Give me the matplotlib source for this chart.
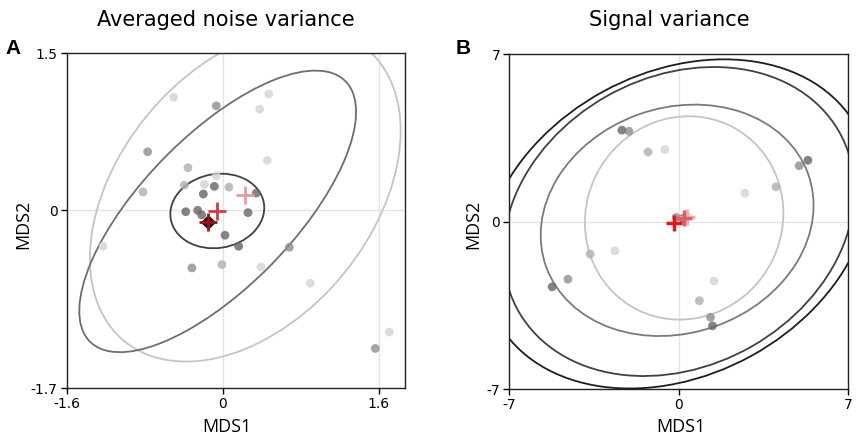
import numpy as np
import matplotlib
matplotlib.use("Agg")
import matplotlib.pyplot as plt
from matplotlib.patches import Ellipse

# ---------------------------
# Panel A: averaged noise variance
# ---------------------------
a_xlim = (-1.6, 1.87)
a_ylim = (-1.7, 1.5)
a_ticks_x = [-1.6, 0, 1.6]
a_ticks_y = [-1.7, 0, 1.5]
a_ticklabels_x = ["-1.6", "0", "1.6"]
a_ticklabels_y = ["-1.7", "0", "1.5"]

# points grouped by shade (light -> dark)
a_light_x = [-0.503, 0.472, 0.379, 0.458, -0.065, -0.188, -1.227, 0.393, 0.899, 1.709]
a_light_y = [1.080, 1.112, 0.966, 0.477, 0.330, 0.248, -0.343, -0.540, -0.696, -1.163]
a_mlight_x = [-0.393, 0.065, -0.817, -0.356, -0.007]
a_mlight_y = [0.241, 0.222, 0.175, 0.407, -0.518]
a_mid_x = [-0.065, -0.769, -0.315, 0.684, 1.566]
a_mid_y = [0.998, 0.559, -0.550, -0.353, -1.319]
a_dark_x = [-0.085, -0.198, 0.345, -0.379, -0.256, -0.215, 0.260, 0.024, 0.164]
a_dark_y = [0.229, 0.156, 0.165, -0.013, 0.0, -0.044, -0.022, -0.238, -0.343]

# ellipses: centre and covariance-like shape matrix
a_ell_centers = [(0.232, 0.149), (-0.051, -0.010), (-0.055, -0.006)]
a_ell_covs = [[[2.54, 0.97], [0.97, 2.54]],
              [[2.016, 1.35], [1.35, 1.809]],
              [[0.232, 0.0145], [0.0145, 0.127]]]
a_ell_colors = ["#c4c4c4", "#6e6e6e", "#404040"]

# means (crosses)
a_cross_x = [0.232, -0.058, -0.147]
a_cross_y = [0.149, -0.003, -0.114]
a_cross_colors = ["#ec9a9a", "#d23c3c", "#a01010"]
a_diamond_x = [-0.147]
a_diamond_y = [-0.114]

# ---------------------------
# Panel B: signal variance
# ---------------------------
b_lim = (-7, 7)
b_ticks = [-7, 0, 7]
b_ticklabels = ["-7", "0", "7"]

b_light_x = [-0.58, 2.73, -2.64, 1.45, 0.37]
b_light_y = [3.01, 1.18, -1.23, -2.49, 0.19]
b_mlight_x = [-1.27, 4.01, -3.66, 0.85]
b_mlight_y = [2.91, 1.45, -1.36, -3.31]
b_mid_x = [-2.06, 4.97, -4.58, 1.31, -0.11]
b_mid_y = [3.77, 2.33, -2.41, -4.00, 0.17]
b_dark_x = [-2.35, 5.33, -5.23, 1.39, 0.17]
b_dark_y = [3.82, 2.56, -2.73, -4.36, 0.13]

b_ell_centers = [(0.22, 0.15), (-0.07, 0.05), (0.0, 0.0), (-0.08, -0.1)]
b_ell_covs = [[[16.8, 0.8], [0.8, 18.06]],
              [[31.75, 3.5], [3.5, 23.38]],
              [[52.5, 9.35], [9.35, 41.7]],
              [[64.0, 13.4], [13.4, 47.3]]]
b_ell_colors = ["#c4c4c4", "#7a7a7a", "#404040", "#1e1e1e"]

b_cross_x = [0.35, 0.2, -0.18]
b_cross_y = [0.2, 0.15, -0.08]
b_cross_colors = ["#f0b0b0", "#e06060", "#e01818"]

shades = ["#d4d4d4", "#b0b0b0", "#8e8e8e", "#666666"]


def draw_ellipses(ax, centers, covs, colors):
    for c, cov, col in zip(centers, covs, colors):
        vals, vecs = np.linalg.eigh(np.array(cov))
        order = vals.argsort()[::-1]
        vals, vecs = vals[order], vecs[:, order]
        angle = np.degrees(np.arctan2(vecs[1, 0], vecs[0, 0]))
        e = Ellipse(c, 2 * np.sqrt(vals[0]), 2 * np.sqrt(vals[1]), angle=angle,
                    fill=False, edgecolor=col, lw=1.3, zorder=2)
        ax.add_patch(e)


def style_axes(ax, xlim, ylim, xt, yt, xtl, ytl):
    ax.set_xlim(xlim)
    ax.set_ylim(ylim)
    ax.set_xticks(xt)
    ax.set_xticklabels(xtl)
    ax.set_yticks(yt)
    ax.set_yticklabels(ytl)
    ax.tick_params(direction="out", length=4, width=1, labelsize=10, pad=2.5)
    ax.grid(True, color="#e2e2e2", lw=0.9, zorder=0)
    ax.set_axisbelow(True)
    for s in ax.spines.values():
        s.set_linewidth(1.0)
        s.set_color("#222222")


fig = plt.figure(figsize=(8.66, 4.45), dpi=100)
axA = fig.add_axes([0.0770, 0.1274, 0.3906, 0.7528])
axB = fig.add_axes([0.5881, 0.1258, 0.3915, 0.7528])

# --- A ---
style_axes(axA, a_xlim, a_ylim, a_ticks_x, a_ticks_y, a_ticklabels_x, a_ticklabels_y)
draw_ellipses(axA, a_ell_centers, a_ell_covs, a_ell_colors)
for xs, ys, col in zip([a_light_x, a_mlight_x, a_mid_x, a_dark_x],
                       [a_light_y, a_mlight_y, a_mid_y, a_dark_y], shades):
    axA.scatter(xs, ys, s=40, color=col, alpha=0.8, edgecolors="none", zorder=3)
axA.scatter(a_diamond_x, a_diamond_y, s=45, marker="D", color="#111111", zorder=4)
for x, y, col in zip(a_cross_x, a_cross_y, a_cross_colors):
    axA.plot(x, y, marker="+", markersize=13, mew=2, color=col, zorder=5)

# --- B ---
style_axes(axB, b_lim, b_lim, b_ticks, b_ticks, b_ticklabels, b_ticklabels)
draw_ellipses(axB, b_ell_centers, b_ell_covs, b_ell_colors)
for xs, ys, col in zip([b_light_x, b_mlight_x, b_mid_x, b_dark_x],
                       [b_light_y, b_mlight_y, b_mid_y, b_dark_y], shades):
    axB.scatter(xs, ys, s=40, color=col, alpha=0.8, edgecolors="none", zorder=3)
for x, y, col in zip(b_cross_x, b_cross_y, b_cross_colors):
    axB.plot(x, y, marker="+", markersize=12, mew=2.5, color=col, zorder=5)

# labels
for ax, ylx, xlx in [(axA, -0.103, 0.474), (axB, -0.081, 0.506)]:
    ax.set_xlabel("MDS1", fontsize=13, family="Open Sans")
    ax.set_ylabel("MDS2", fontsize=13, family="Open Sans")
    ax.xaxis.set_label_coords(xlx, -0.088)
    ax.yaxis.set_label_coords(ylx, 0.49)

fig.text(226 / 866, 1 - 20 / 445, "Averaged noise variance", fontsize=15,
         ha="center", va="center")
fig.text(669 / 866, 1 - 20 / 445, "Signal variance", fontsize=15,
         ha="center", va="center")
fig.text(12.8 / 866, 1 - 49 / 445, "A", fontsize=15, weight="bold",
         family="Liberation Sans", ha="center", va="center")
fig.text(462.7 / 866, 1 - 49 / 445, "B", fontsize=15, weight="bold",
         family="Liberation Sans", ha="center", va="center")

fig.savefig("out.png", dpi=100)
